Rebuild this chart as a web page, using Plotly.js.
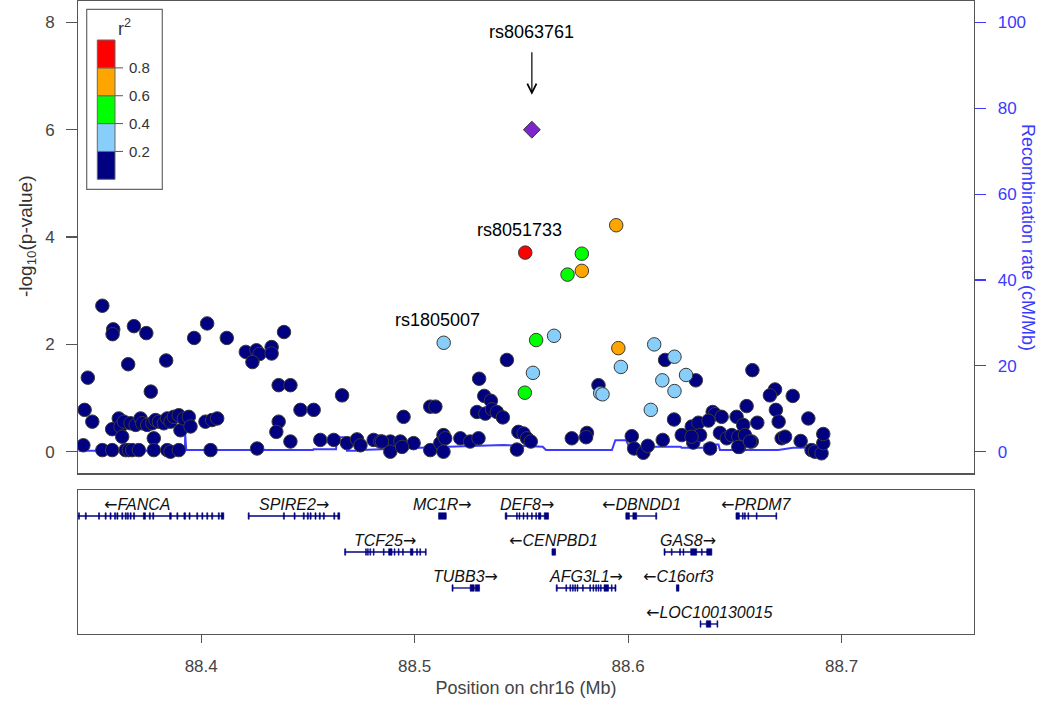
<!DOCTYPE html>
<html>
<head>
<meta charset="utf-8">
<script src="https://cdn.plot.ly/plotly-3.0.1.min.js"></script>
<style>html,body{margin:0;padding:0;background:#fff;}#chart{width:1050px;height:706px;}</style>
</head>
<body>
<div id="chart"></div>
<script>
// ---------- DATA ----------
// SNPs by LD class (position Mb, -log10 p)
const navyX = [88.3537,88.3588,88.3585,88.3685,88.3743,88.3658,88.3836,88.3469,88.3764,88.3454,88.3490,88.3448,88.3537,88.3583,
  88.3967,88.4028,88.4120,88.4209,88.4259,88.4273,88.4240,88.4330,88.4330,88.4388,88.4363,88.4418,88.4660,88.4465,88.4527,
  88.4363,88.4352,88.4418,88.4558,88.4621,88.4683,88.4730,88.4746,88.4808,88.4839,88.4886,88.4886,88.4933,88.4948,88.4995,88.4941,
  88.3583,88.3614,88.3622,88.3638,88.3630,88.3646,88.3661,88.3677,88.3708,88.3669,88.3693,88.3716,88.3724,88.3747,88.3771,
  88.3786,88.3802,88.3825,88.3841,88.3856,88.3872,88.3895,88.3903,88.3919,88.3942,88.3950,88.3778,88.3778,88.3841,88.3856,
  88.3895,88.4020,88.4051,88.4075,88.4044,88.4262,
  88.4847,88.5073,88.5120,88.5135,88.5143,88.5135,88.5214,88.5260,88.5299,88.5073,88.5097,88.5432,88.5302,88.5326,88.5357,
  88.5292,88.5331,88.5362,88.5385,88.5413,88.5486,88.5510,88.5526,88.5544,88.5479,88.5736,88.5807,88.5803,88.5861,
  88.6173,88.6317,88.6582,88.6688,88.6664,88.6771,88.6555,88.6692,88.6705,88.6844,88.6215,88.6605,88.6017,88.6028,88.6071,
  88.6092,88.6162,88.6251,88.6298,88.6329,88.6305,88.6337,88.6384,88.6396,88.6407,88.6438,88.6376,88.6430,88.6462,88.6485,
  88.6508,88.6516,88.6539,88.6547,88.6579,88.6521,88.6719,88.6735,88.6808,88.6859,88.6875,88.6906,88.6914,88.6914,88.6297,88.6516,88.6571];
const navyY = [2.72,2.28,2.19,2.34,2.21,1.63,1.70,1.38,1.12,0.78,0.56,0.12,0.03,0.03,
  2.12,2.39,2.12,1.86,1.89,1.82,1.67,1.95,1.83,2.23,1.24,1.24,1.05,0.78,0.78,
  0.56,0.37,0.19,0.22,0.22,0.16,0.23,0.12,0.22,0.19,0.19,0.00,0.19,0.65,0.16,0.09,
  0.42,0.62,0.47,0.56,0.28,0.03,0.03,0.03,0.03,0.53,0.50,0.62,0.53,0.50,0.53,
  0.59,0.56,0.53,0.62,0.56,0.65,0.68,0.40,0.62,0.65,0.47,0.25,0.03,0.03,0.00,
  0.03,0.56,0.59,0.62,0.03,0.06,
  0.19,0.03,0.16,0.31,0.25,0.00,0.25,0.19,0.25,0.84,0.84,1.71,1.36,1.04,0.95,
  0.74,0.71,0.79,0.74,0.64,0.37,0.34,0.25,0.19,0.04,0.25,0.35,0.27,1.24,
  1.71,1.33,1.52,1.16,1.05,1.04,0.85,0.78,0.56,0.62,0.60,0.54,0.29,0.06,-0.02,
  0.11,0.22,0.31,0.47,0.54,0.17,0.31,0.06,0.74,0.70,0.65,0.58,0.35,0.25,0.31,
  0.65,0.28,0.50,0.31,0.19,0.09,0.25,0.28,0.20,0.03,0.00,-0.03,0.16,0.33,0.28,0.09,0.19];
const lblueX = [88.5136,88.5653,88.5554,88.5869,88.5880,88.5966,88.6122,88.6217,88.6160,88.6271,88.6217,88.6106];
const lblueY = [2.03,2.16,1.47,1.09,1.07,1.58,2.00,1.77,1.33,1.43,1.13,0.78];
const greenX = [88.5569,88.5516,88.5783,88.5716];
const greenY = [2.08,1.10,3.69,3.30];
const orangeX = [88.5944,88.5783,88.5954];
const orangeY = [4.22,3.37,1.93];
const redX = [88.5518];
const redY = [3.71];
const leadX = [88.5549];
const leadY = [6.00];
const leadName = 'rs8063761';
const labelNames = ['rs8051733','rs1805007'];
const labelX = [88.5518, 88.5136];
const labelY = [3.71, 2.03];

// recombination rate (cM/Mb)
const recombX = [88.3426,88.3924,88.3925,88.3930,88.4524,88.4526,88.4632,88.4635,88.4680,88.4683,88.4744,88.4750,88.5120,88.5260,
  88.5415,88.5600,88.5615,88.5924,88.5940,88.5990,88.6005,88.6246,88.6250,88.6354,88.6358,88.6423,88.6430,88.6703,88.6773,88.6906];
const recombY = [0.23,0.23,4.3,0.4,0.4,0.56,0.56,3.4,3.4,0.23,0.23,0.4,1.1,1.3,1.56,1.16,0.4,0.4,2.7,2.7,1.16,1.16,0.93,0.93,1.7,1.7,0.4,0.4,0.9,1.0];

// r2 legend
const r2Breaks = [0,0.2,0.4,0.6,0.8,1.0];
const r2Colors = ['#000080','#87CEFA','#00FF00','#FFA500','#FF0000'];
const r2TickLabels = ['0.2','0.4','0.6','0.8'];

// genes
const geneNames = ['FANCA','SPIRE2','TCF25','MC1R','TUBB3','DEF8','CENPBD1','AFG3L1','DBNDD1','GAS8','C16orf3','LOC100130015','PRDM7'];
const geneStart = [88.3295,88.4220,88.4672,88.5112,88.5175,88.5424,88.5643,88.5663,88.5989,88.6168,88.6226,88.6337,88.6505];
const geneEnd   = [88.4106,88.4649,88.5054,88.5148,88.5304,88.5627,88.5660,88.5943,88.6134,88.6392,88.6238,88.6420,88.6696];
const geneStrand = ['-','+','+','+','+','+','-','+','-','+','-','-','-'];
const geneRow = [1,1,2,1,3,1,2,3,1,2,3,4,1];
const geneExons = [
  [[88.3425,88.3430],[88.3457,88.3462],[88.3519,88.3524],[88.3550,88.3555],[88.3573,88.3578],[88.3594,88.3599],[88.3605,88.3610],[88.3628,88.3633],[88.3644,88.3649],[88.3654,88.3659],[88.3667,88.3672],[88.3683,88.3688],[88.3729,88.3739],[88.3757,88.3762],[88.3773,88.3778],[88.3852,88.3860],[88.3886,88.3891],[88.3919,88.3927],[88.3943,88.3948],[88.3979,88.3984],[88.4003,88.4008],[88.4026,88.4031],[88.4049,88.4054],[88.4080,88.4085],[88.4094,88.4106]],
  [[88.4220,88.4225],[88.4385,88.4390],[88.4435,88.4440],[88.4478,88.4483],[88.4497,88.4502],[88.4510,88.4515],[88.4533,88.4538],[88.4553,88.4558],[88.4572,88.4577],[88.4621,88.4626],[88.4640,88.4649]],
  [[88.4672,88.4677],[88.4770,88.4774],[88.4779,88.4783],[88.4790,88.4794],[88.4806,88.4810],[88.4853,88.4857],[88.4878,88.4894],[88.4904,88.4908],[88.4923,88.4927],[88.4943,88.4947],[88.4980,88.4992],[88.5009,88.5013],[88.5024,88.5028],[88.5050,88.5054]],
  [[88.5112,88.5148]],
  [[88.5175,88.5180],[88.5260,88.5279],[88.5284,88.5304]],
  [[88.5424,88.5432],[88.5477,88.5481],[88.5489,88.5493],[88.5508,88.5512],[88.5526,88.5530],[88.5547,88.5551],[88.5567,88.5571],[88.5580,88.5591],[88.5607,88.5627]],
  [[88.5643,88.5660]],
  [[88.5663,88.5668],[88.5708,88.5712],[88.5727,88.5731],[88.5739,88.5743],[88.5750,88.5754],[88.5761,88.5765],[88.5786,88.5790],[88.5820,88.5824],[88.5835,88.5839],[88.5848,88.5852],[88.5859,88.5863],[88.5870,88.5874],[88.5887,88.5908],[88.5921,88.5925],[88.5938,88.5943]],
  [[88.5989,88.6006],[88.6022,88.6040],[88.6129,88.6134]],
  [[88.6168,88.6173],[88.6202,88.6206],[88.6241,88.6245],[88.6257,88.6261],[88.6293,88.6321],[88.6343,88.6347],[88.6368,88.6392]],
  [[88.6226,88.6238]],
  [[88.6337,88.6341],[88.6366,88.6387],[88.6416,88.6420]],
  [[88.6505,88.6521],[88.6535,88.6539],[88.6545,88.6549],[88.6561,88.6565],[88.6600,88.6604],[88.6692,88.6696]]
];

// ---------- LAYOUT HELPERS ----------
const W = 1050, H = 706;
const M = {l:78, r:76, t:1, b:72};
const PW = W - M.l - M.r, PH = H - M.t - M.b;
const px2x = p => (p - M.l) / PW;
const py2y = p => (H - M.b - p) / PH;
const FONT = 'Liberation Sans, Arial, Helvetica, sans-serif';
const NAVY = '#000080';
const BLUE = '#3b3bff';
const AXC = '#555555';
const XR = [88.3423, 88.762];

// ---------- TRACES ----------
const traces = [];
traces.push({x: recombX, y: recombY, xaxis:'x', yaxis:'y', mode:'lines',
  line:{color:BLUE, width:2}, hoverinfo:'skip', showlegend:false});
function pts(x, y, color, symbol, size) {
  return {x, y, xaxis:'x', yaxis:'y2', mode:'markers', showlegend:false, hoverinfo:'x+y',
    marker:{color, symbol:symbol||'circle', size:size||13.5, line:{color:'#3a3a3a', width:1}}};
}
traces.push(pts(navyX, navyY, r2Colors[0]));
traces.push(pts(lblueX, lblueY, r2Colors[1]));
traces.push(pts(greenX, greenY, r2Colors[2]));
traces.push(pts(orangeX, orangeY, r2Colors[3]));
traces.push(pts(redX, redY, r2Colors[4]));
traces.push(pts(leadX, leadY, '#7D26CD', 'diamond', 13));

const shapes = [];
const annotations = [];
const ARW = s => '<span style="font-family:DejaVu Sans;font-style:normal">' + s + '</span>';
geneNames.forEach((g, i) => {
  const row = -geneRow[i];
  traces.push({x:[geneStart[i], geneEnd[i]], y:[row, row], xaxis:'x2', yaxis:'y3', mode:'lines',
    line:{color:NAVY, width:1.3}, hoverinfo:'skip', showlegend:false});
  geneExons[i].forEach(ex => {
    shapes.push({type:'rect', xref:'x2', yref:'y3', x0:ex[0], x1:ex[1], y0:row-0.09, y1:row+0.09,
      fillcolor:NAVY, line:{width:0.6, color:NAVY}, layer:'above'});
  });
  const label = geneStrand[i] === '+' ? '<i>' + g + '</i>' + ARW('\u2192') : ARW('\u2190') + '<i>' + g + '</i>';
  annotations.push({x:(geneStart[i]+geneEnd[i])/2, y:row+0.33, xref:'x2', yref:'y3', text:label,
    showarrow:false, font:{family:FONT, size:16, color:'#111'}, xanchor:'center', yanchor:'middle'});
});

// SNP labels
annotations.push({x:leadX[0], y:leadY[0], xref:'x', yref:'y2', text:leadName, showarrow:false,
  yshift:98, font:{family:FONT, size:18, color:'#000'}});
annotations.push({x:leadX[0], y:leadY[0] + 0.65, xref:'x', yref:'y2', ax:leadX[0], ay:leadY[0] + 1.47,
  axref:'x', ayref:'y2', text:'', showarrow:true, arrowhead:5, arrowsize:1.5, arrowwidth:1.2, arrowcolor:'#000'});
labelNames.forEach((n, i) => {
  annotations.push({x:labelX[i], y:labelY[i], xref:'x', yref:'y2', text:n, showarrow:false,
    xshift:-6, yshift:23, font:{family:FONT, size:18, color:'#000'}});
});

// axis titles
annotations.push({x:px2x(13), y:py2y(237), xref:'paper', yref:'paper', text:'-log<sub>10</sub>(p-value)',
  textangle:-90, showarrow:false, font:{family:FONT, size:19, color:'#333'}});
annotations.push({x:px2x(1040), y:py2y(237), xref:'paper', yref:'paper', text:'Recombination rate (cM/Mb)',
  textangle:90, showarrow:false, font:{family:FONT, size:18, color:BLUE}});

// r2 legend (paper coords from pixel layout)
const lg = {x0:86.7, x1:162.3, y0:9.3, y1:189.3, bx0:97.3, bx1:115, by0:179.3, by1:40};
shapes.push({type:'rect', xref:'paper', yref:'paper', x0:px2x(lg.x0), x1:px2x(lg.x1), y0:py2y(lg.y1), y1:py2y(lg.y0),
  fillcolor:'#fff', line:{color:'#666', width:1.2}, layer:'above'});
const bh = (lg.by0 - lg.by1);
r2Colors.forEach((c, i) => {
  const ya = lg.by0 - r2Breaks[i]*bh, yb = lg.by0 - r2Breaks[i+1]*bh;
  shapes.push({type:'rect', xref:'paper', yref:'paper', x0:px2x(lg.bx0), x1:px2x(lg.bx1), y0:py2y(ya), y1:py2y(yb),
    fillcolor:c, line:{color:'#666', width:1}, layer:'above'});
});
r2TickLabels.forEach((t, i) => {
  const yy = lg.by0 - r2Breaks[i+1]*bh;
  shapes.push({type:'line', xref:'paper', yref:'paper', x0:px2x(lg.bx1), x1:px2x(lg.bx1+8), y0:py2y(yy), y1:py2y(yy),
    line:{color:'#555', width:1}, layer:'above'});
  annotations.push({x:px2x(lg.bx1+12), y:py2y(yy), xref:'paper', yref:'paper', text:t, showarrow:false,
    xanchor:'left', yanchor:'middle', font:{family:FONT, size:15, color:'#333'}});
});
annotations.push({x:px2x(124), y:py2y(27), xref:'paper', yref:'paper', text:'r<sup>2</sup>', showarrow:false,
  xanchor:'center', yanchor:'middle', font:{family:FONT, size:18, color:'#333'}});

const topDom = [py2y(473.3), 1];
const botDom = [0, py2y(490)];

const layout = {
  width:W, height:H, margin:M, paper_bgcolor:'#fff', plot_bgcolor:'#fff', showlegend:false,
  font:{family:FONT, color:'#333'},
  xaxis:{domain:[0,1], anchor:'y', range:XR, showticklabels:false, ticks:'', showline:true, mirror:true,
    linecolor:AXC, linewidth:1.3, showgrid:false, zeroline:false},
  yaxis:{domain:topDom, anchor:'x', side:'right', range:[-0.402*12.5, 8.398*12.5], tickvals:[0,20,40,60,80,100],
    ticks:'outside', ticklen:11, tickcolor:BLUE, tickwidth:1.2, tickfont:{family:FONT, size:17, color:BLUE},
    ticklabelstandoff:8, showline:true, mirror:true, linecolor:AXC, linewidth:1.3, showgrid:false, zeroline:false},
  yaxis2:{overlaying:'y', anchor:'x', side:'left', range:[-0.402, 8.398], tickvals:[0,2,4,6,8],
    ticks:'outside', ticklen:11, tickcolor:AXC, tickwidth:1.2, tickfont:{family:FONT, size:17, color:'#444'},
    ticklabelstandoff:8, showline:false, showgrid:false, zeroline:false},
  xaxis2:{domain:[0,1], anchor:'y3', range:XR, tickvals:[88.4,88.5,88.6,88.7], ticktext:['88.4','88.5','88.6','88.7'],
    ticks:'outside', ticklen:8, tickcolor:AXC, tickwidth:1.2, tickfont:{family:FONT, size:17, color:'#444'},
    ticklabelstandoff:8, showline:true, mirror:true, linecolor:AXC, linewidth:1.3, showgrid:false, zeroline:false,
    title:{text:'Position on chr16 (Mb)', font:{family:FONT, size:18, color:'#444'}, standoff:6}},
  yaxis3:{domain:botDom, anchor:'x2', range:[-4.278, -0.278], showticklabels:false, ticks:'', showline:true, mirror:true,
    linecolor:AXC, linewidth:1.3, showgrid:false, zeroline:false},
  shapes, annotations
};

Plotly.newPlot('chart', traces, layout, {staticPlot:true, displayModeBar:false});
</script>
</body>
</html>
